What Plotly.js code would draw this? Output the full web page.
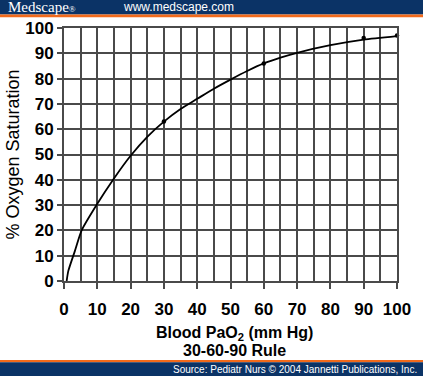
<!DOCTYPE html>
<html>
<head>
<meta charset="utf-8">
<script src="https://cdn.plot.ly/plotly-3.0.1.min.js"></script>
<style>
html,body{margin:0;padding:0;background:#fff;}
#chart{width:423px;height:376px;}
</style>
</head>
<body>
<div id="chart"></div>
<script>
// Curve (PaO2 mm Hg -> % saturation)
var curvePaO2 = [0.8, 1.3, 3.3, 5.3, 10, 15, 20, 25, 30, 35, 40, 45, 50, 55, 60, 65, 70, 80, 90, 100];
var curveSat  = [0, 4, 12, 20, 30.5, 40.5, 49.5, 57, 63, 68, 72, 76, 79.6, 83, 86, 88.3, 90.2, 93.2, 95.4, 96.8];
// Marked points (30-60-90 rule)
var pointPaO2 = [30, 60, 90, 100];
var pointSat  = [63, 86, 96, 97];
var xTicks = [0, 10, 20, 30, 40, 50, 60, 70, 80, 90, 100];
var yTicks = [0, 10, 20, 30, 40, 50, 60, 70, 80, 90, 100];

var W = 423, H = 376;
var M = {l: 64, r: 26, t: 28, b: 95};
var PW = W - M.l - M.r, PH = H - M.t - M.b;
function px(x){ return (x - M.l) / PW; }
function py(y){ return (H - M.b - y) / PH; }

var navy = '#0b3366', orange = '#f26a1b', gridC = '#4a4a4a';

var traces = [
  {x: curvePaO2, y: curveSat, type: 'scatter', mode: 'lines',
   line: {color: '#000', width: 1.8, shape: 'spline', smoothing: 0.6},
   hoverinfo: 'x+y', cliponaxis: false},
  {x: pointPaO2, y: pointSat, type: 'scatter', mode: 'markers',
   marker: {color: '#000', size: 4.5}, cliponaxis: false}
];

var layout = {
  width: W, height: H,
  margin: M,
  paper_bgcolor: '#fff', plot_bgcolor: '#fff',
  showlegend: false,
  font: {family: 'Liberation Sans, Arial, sans-serif', color: '#000'},
  xaxis: {
    range: [0, 100], tickvals: xTicks, ticktext: xTicks.map(String),
    ticks: 'outside', ticklen: 6, tickwidth: 2, tickcolor: gridC,
    showgrid: true, gridcolor: gridC, gridwidth: 2,
    minor: {dtick: 5, tick0: 0, showgrid: true, gridcolor: gridC, gridwidth: 2, ticks: ''},
    showline: true, linecolor: gridC, linewidth: 2, mirror: true,
    zeroline: false, fixedrange: true,
    tickfont: {size: 17, family: 'Liberation Sans, Arial', weight: 'bold', color: '#000'},
    ticklabelstandoff: 6
  },
  yaxis: {
    range: [0, 100], tickvals: yTicks, ticktext: yTicks.map(String),
    ticks: 'outside', ticklen: 5, tickwidth: 2, tickcolor: gridC,
    showgrid: true, gridcolor: gridC, gridwidth: 2,
    showline: true, linecolor: gridC, linewidth: 2, mirror: true,
    zeroline: false, fixedrange: true,
    tickfont: {size: 17, family: 'Liberation Sans, Arial', weight: 'bold', color: '#000'},
    title: {text: '% Oxygen Saturation', font: {size: 18, family: 'Liberation Sans, Arial', color: '#000'}, standoff: 1}
  },
  shapes: [
    {type: 'rect', xref: 'paper', yref: 'paper', x0: px(0), x1: px(W), y0: py(0), y1: py(14.5), fillcolor: navy, line: {width: 0}, layer: 'above'},
    {type: 'rect', xref: 'paper', yref: 'paper', x0: px(0), x1: px(W), y0: py(14.5), y1: py(17.3), fillcolor: orange, line: {width: 0}, layer: 'above'},
    {type: 'rect', xref: 'paper', yref: 'paper', x0: px(0), x1: px(W), y0: py(360), y1: py(362.3), fillcolor: orange, line: {width: 0}, layer: 'above'},
    {type: 'rect', xref: 'paper', yref: 'paper', x0: px(0), x1: px(W), y0: py(362.3), y1: py(H), fillcolor: navy, line: {width: 0}, layer: 'above'}
  ],
  annotations: [
    {xref: 'paper', yref: 'paper', x: px(6), y: py(6.5), xanchor: 'left', yanchor: 'middle', showarrow: false,
     text: 'Medscape<span style="font-size:9px">®</span>', font: {family: 'Liberation Serif, Times New Roman, serif', size: 15, color: '#fff'}},
    {xref: 'paper', yref: 'paper', x: px(121), y: py(7), xanchor: 'left', yanchor: 'middle', showarrow: false,
     text: 'www.medscape.com', font: {family: 'Liberation Sans, Arial', size: 12, color: '#fff'}},
    {xref: 'paper', yref: 'paper', x: px(234), y: py(333), xanchor: 'center', yanchor: 'middle', showarrow: false,
     text: 'Blood PaO<sub>2</sub> (mm Hg)', font: {family: 'Liberation Sans, Arial', size: 16, weight: 'bold', color: '#000'}},
    {xref: 'paper', yref: 'paper', x: px(234), y: py(350), xanchor: 'center', yanchor: 'middle', showarrow: false,
     text: '30-60-90 Rule', font: {family: 'Liberation Sans, Arial', size: 16, weight: 'bold', color: '#000'}},
    {xref: 'paper', yref: 'paper', x: px(419), y: py(369), xanchor: 'right', yanchor: 'middle', showarrow: false,
     text: 'Source: Pediatr Nurs © 2004 Jannetti Publications, Inc.', font: {family: 'Liberation Sans, Arial', size: 10, color: '#fff'}}
  ]
};

Plotly.newPlot('chart', traces, layout, {staticPlot: true, displayModeBar: false});
</script>
</body>
</html>
